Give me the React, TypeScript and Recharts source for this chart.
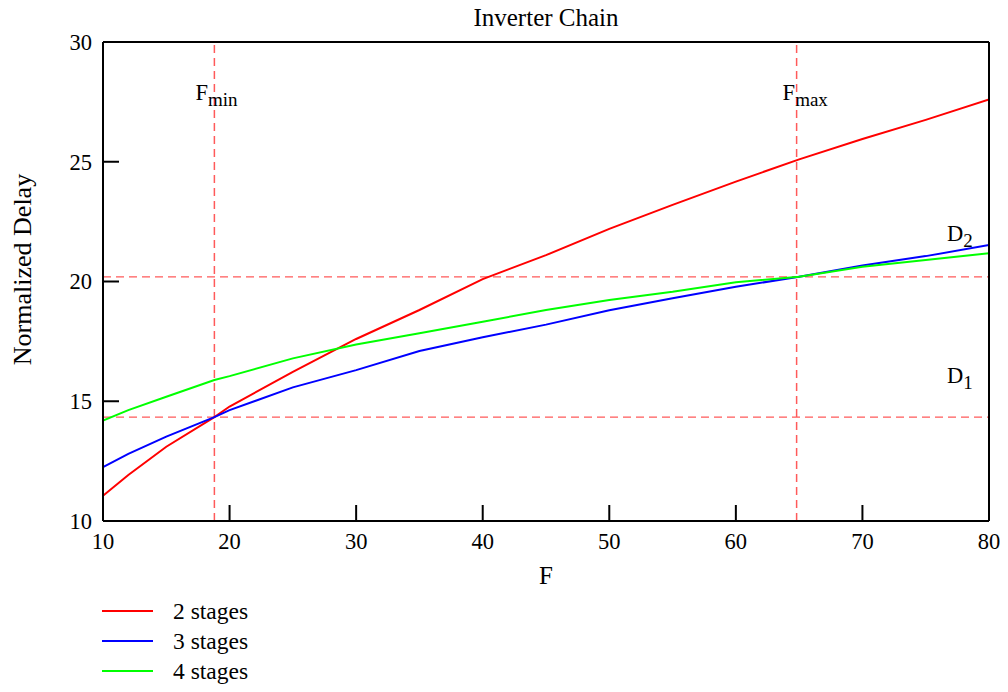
import React from 'react';
import { LineChart, Line, XAxis, YAxis, ReferenceLine } from 'recharts';

const fanout = [10, 12, 15, 18.8, 20, 25, 30, 35, 40, 45, 50, 55, 60, 65, 70, 75, 80];
const delay2 = [11.05, 11.92, 13.1, 14.34, 14.78, 16.23, 17.6, 18.81, 20.1, 21.1, 22.2, 23.2, 24.17, 25.1, 25.95, 26.75, 27.6];
const delay3 = [12.25, 12.8, 13.52, 14.34, 14.63, 15.58, 16.3, 17.1, 17.67, 18.2, 18.8, 19.3, 19.78, 20.2, 20.67, 21.06, 21.52];
const delay4 = [14.19, 14.63, 15.19, 15.89, 16.05, 16.79, 17.37, 17.84, 18.32, 18.81, 19.23, 19.57, 19.97, 20.2, 20.62, 20.9, 21.18];

const xTicks = [10, 20, 30, 40, 50, 60, 70, 80];
const yTicks = [10, 15, 20, 25, 30];

const fMin = 18.8;
const fMax = 64.8;
const d1 = 14.34;
const d2 = 20.19;

const seriesKeys = ['s2', 's3', 's4'];
const seriesNames = ['2 stages', '3 stages', '4 stages'];
const seriesColors = ['#ff0000', '#0000ff', '#00ff00'];

const data = fanout.map((f, i) => ({ F: f, s2: delay2[i], s3: delay3[i], s4: delay4[i] }));

const FONT = "'Liberation Serif', 'Times New Roman', serif";
const FS = 22.5;
const REF_COLOR = '#ff5a5a';

const vLabel = (main: string, sub: string, dx: number) => (p: any) => {
  const vb = p.viewBox || {};
  return (
    <text x={vb.x + dx} y={vb.y + 58} fontFamily={FONT} fontSize={FS} fill="#000">
      <tspan>{main}</tspan>
      <tspan dy={6} fontSize={19}>{sub}</tspan>
    </text>
  );
};

const hLabel = (main: string, sub: string, dy: number) => (p: any) => {
  const vb = p.viewBox || {};
  return (
    <text x={vb.x + vb.width - 42} y={vb.y + dy} fontFamily={FONT} fontSize={FS} fill="#000">
      <tspan>{main}</tspan>
      <tspan dy={6} fontSize={19}>{sub}</tspan>
    </text>
  );
};

const titleLabel = (p: any) => {
  const vb = p.viewBox || {};
  return (
    <text x={vb.x + vb.width / 2} y={vb.y - 15} textAnchor="middle" fontFamily={FONT} fontSize={25} fill="#000">
      Inverter Chain
    </text>
  );
};

const xLabel = (p: any) => {
  const vb = p.viewBox || {};
  return (
    <text x={vb.x + vb.width / 2} y={vb.y + 63} textAnchor="middle" fontFamily={FONT} fontSize={25} fill="#000">
      F
    </text>
  );
};

const yLabel = (p: any) => {
  const vb = p.viewBox || {};
  const cx = vb.x + 22;
  const cy = vb.y + vb.height / 2 - 12;
  return (
    <text x={cx} y={cy} textAnchor="middle" dominantBaseline="central" transform={`rotate(-90 ${cx} ${cy})`} fontFamily={FONT} fontSize={26} fill="#000">
      Normalized Delay
    </text>
  );
};

const tickStyle = { fill: '#000', fontSize: FS, fontFamily: FONT };
const axisLine = { stroke: '#000', strokeWidth: 2 };
const tickLine = { stroke: '#000', strokeWidth: 2 };

export default function App() {
  return (
    <div style={{ position: 'relative', width: 1008, height: 692, margin: -8, fontFamily: FONT }}>
      <LineChart width={1008} height={692} data={data} margin={{ top: 41, right: 18, left: 0, bottom: 111 }}>
        <XAxis
          dataKey="F"
          type="number"
          domain={[10, 80]}
          ticks={xTicks}
          interval={0}
          allowDataOverflow
          height={60}
          tickSize={-16}
          tickMargin={28}
          tick={tickStyle}
          axisLine={axisLine}
          tickLine={tickLine}
          label={xLabel}
        />
        <XAxis
          xAxisId="top"
          orientation="top"
          dataKey="F"
          type="number"
          domain={[10, 80]}
          ticks={xTicks}
          interval={0}
          allowDataOverflow
          height={1}
          tickSize={-16}
          tick={false}
          axisLine={axisLine}
          tickLine={tickLine}
          label={titleLabel}
        />
        <YAxis
          type="number"
          domain={[10, 30]}
          ticks={yTicks}
          interval={0}
          allowDataOverflow
          width={103}
          tickSize={-16}
          tickMargin={27}
          tick={tickStyle}
          axisLine={axisLine}
          tickLine={tickLine}
          label={yLabel}
        />
        <YAxis
          yAxisId="right"
          orientation="right"
          type="number"
          domain={[10, 30]}
          ticks={yTicks}
          interval={0}
          allowDataOverflow
          width={1}
          tickSize={-16}
          tick={false}
          axisLine={axisLine}
          tickLine={tickLine}
        />
        <ReferenceLine x={fMin} stroke={REF_COLOR} strokeWidth={1.5} strokeDasharray="8 5" label={vLabel('F', 'min', -19)} />
        <ReferenceLine x={fMax} stroke={REF_COLOR} strokeWidth={1.5} strokeDasharray="8 5" label={vLabel('F', 'max', -14)} />
        <ReferenceLine y={d1} stroke={REF_COLOR} strokeWidth={1.2} strokeDasharray="8 5" label={hLabel('D', '1', -34)} />
        <ReferenceLine y={d2} stroke={REF_COLOR} strokeWidth={1.2} strokeDasharray="8 5" label={hLabel('D', '2', -36)} />
        {seriesKeys.map((k, i) => (
          <Line
            key={k}
            dataKey={k}
            name={seriesNames[i]}
            stroke={seriesColors[i]}
            strokeWidth={2}
            dot={false}
            activeDot={false}
            type="linear"
            isAnimationActive={false}
          />
        ))}
      </LineChart>
      <svg width={220} height={90} style={{ position: 'absolute', left: 102, top: 596 }}>
        {seriesNames.map((n, i) => (
          <g key={n}>
            <line x1={0} x2={51} y1={15 + i * 30} y2={15 + i * 30} stroke={seriesColors[i]} strokeWidth={2} />
            <text x={71} y={15 + i * 30} dominantBaseline="central" fontFamily={FONT} fontSize={23.5} fill="#000">
              {n}
            </text>
          </g>
        ))}
      </svg>
    </div>
  );
}
